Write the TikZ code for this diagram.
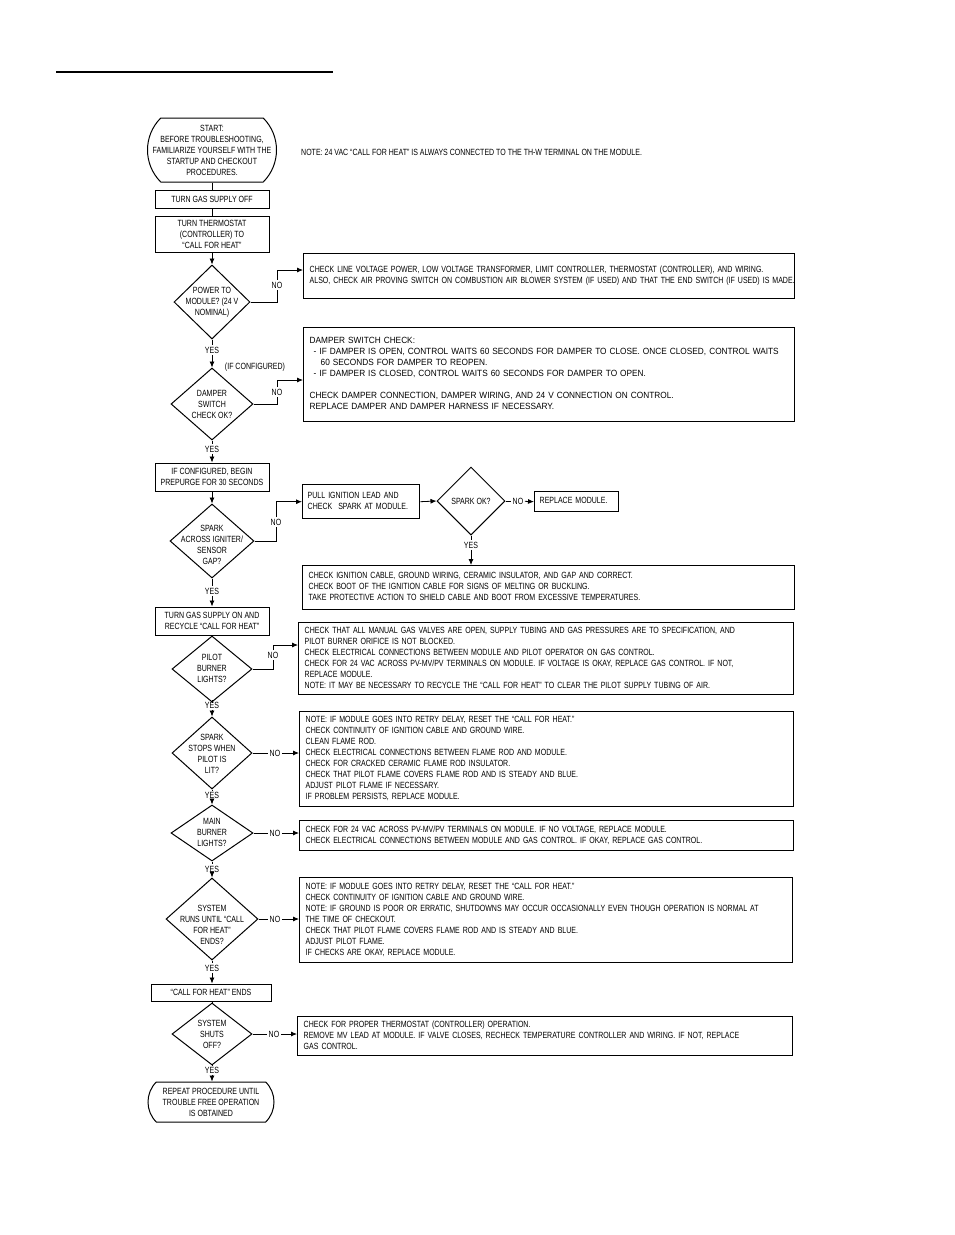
\documentclass[tikz,border=0pt]{standalone}
\usepackage{fontspec}
\setmainfont{Liberation Sans}[FakeStretch=0.78]
\newfontfamily\wideB{Liberation Sans}[FakeStretch=0.92]
\usetikzlibrary{arrows.meta,shapes.geometric,shapes.misc}
\newcommand{\fsz}{\fontsize{9}{11}\selectfont}
\newcommand{\tl}[1]{\begin{tabular}{@{}l@{}}#1\end{tabular}}
\tikzset{
  lbox/.style={draw, line width=1pt, font=\fsz, align=center, inner sep=2pt},
  rbox/.style={draw, line width=1.4pt, font=\fsz, align=left, inner xsep=5pt, inner ysep=2pt, anchor=north west},
  dia/.style={draw, diamond, line width=1pt, inner sep=0pt},
  dtext/.style={font=\fsz, align=center, inner sep=0pt},
  term/.style={draw, rounded rectangle, rounded rectangle arc length=90, line width=1pt, inner sep=0pt},
  lab/.style={font=\fsz, inner sep=1.5pt},
  arr/.style={line width=0.8pt, -{Latex[length=6pt,width=5pt]}},
  ln/.style={line width=0.8pt},
}
\begin{document}
\begin{tikzpicture}[x=1pt,y=-1pt]
\useasboundingbox[fill=white] (0,0) rectangle (954,1235);
\draw[line width=2.5pt] (56,72) -- (333,72);

% start
\node[term, minimum width=129pt, minimum height=64pt] (start) at (212,150) {};
\node[dtext] (starttxt) at (start) {START:\\BEFORE TROUBLESHOOTING,\\FAMILIARIZE YOURSELF WITH THE\\STARTUP AND CHECKOUT\\PROCEDURES.};
\node[dtext, anchor=west] (note) at (301,152) {NOTE: 24 VAC “CALL FOR HEAT” IS ALWAYS CONNECTED TO THE TH-W TERMINAL ON THE MODULE.};

\node[lbox, minimum width=114pt, minimum height=18pt] (gasoff) at (212,199) {TURN GAS SUPPLY OFF};
\node[lbox, minimum width=114pt, minimum height=36pt] (thermo) at (212,234) {TURN THERMOSTAT\\(CONTROLLER) TO\\“CALL FOR HEAT”};

% diamond 1
\node[dia, minimum width=76pt, minimum height=74pt] (D1) at (212,302) {};
\node[dtext] (D1t) at (212,302) {POWER TO\\MODULE? (24 V\\NOMINAL)};
\node[lab] (n1) at (277,285) {NO};
\node[rbox, minimum width=491pt, minimum height=45pt, text width=479pt] (B1) at (303,253) {\tl{CHECK LINE VOLTAGE POWER, LOW VOLTAGE TRANSFORMER, LIMIT CONTROLLER, THERMOSTAT (CONTROLLER), AND WIRING.\\ALSO, CHECK AIR PROVING SWITCH ON COMBUSTION AIR BLOWER SYSTEM (IF USED) AND THAT THE END SWITCH (IF USED) IS MADE.}};

% diamond 2
\node[lab] (y1) at (212,350) {YES};
\node[dia, minimum width=82pt, minimum height=72pt] (D2) at (212,404) {};
\node[dtext] (D2t) at (212,404) {DAMPER\\SWITCH\\CHECK OK?};
\node[dtext] (ifconf) at (255,367) {(IF CONFIGURED)};
\node[lab] (n2) at (277,392) {NO};
\node[rbox, font={\wideB\fsz}, minimum width=491pt, minimum height=94pt, text width=479pt] (B2) at (303,327) {\tl{DAMPER SWITCH CHECK:\\
\hspace{4pt}- IF DAMPER IS OPEN, CONTROL WAITS 60 SECONDS FOR DAMPER TO CLOSE. ONCE CLOSED, CONTROL WAITS\\
\hspace{11pt}60 SECONDS FOR DAMPER TO REOPEN.\\
\hspace{4pt}- IF DAMPER IS CLOSED, CONTROL WAITS 60 SECONDS FOR DAMPER TO OPEN.\\
\\
CHECK DAMPER CONNECTION, DAMPER WIRING, AND 24 V CONNECTION ON CONTROL.\\
REPLACE DAMPER AND DAMPER HARNESS IF NECESSARY.}};

% prepurge
\node[lab] (y2) at (212,449) {YES};
\node[lbox, minimum width=114pt, minimum height=28pt] (prep) at (212,477) {IF CONFIGURED, BEGIN\\PREPURGE FOR 30 SECONDS};

% diamond 3
\node[dia, minimum width=84pt, minimum height=74pt] (D3) at (212,541) {};
\node[dtext] (D3t) at (212,545) {SPARK\\ACROSS IGNITER/\\SENSOR\\GAP?};
\node[lab] (n3) at (276,522) {NO};
\node[rbox, minimum width=117pt, minimum height=34pt, text width=107pt] (pull) at (302,484) {\tl{PULL IGNITION LEAD AND\\CHECK\ \ SPARK AT MODULE.}};
\node[dia, minimum width=68pt, minimum height=68pt] (D4) at (471,501) {};
\node[dtext] (D4t) at (471,501) {SPARK OK?};
\node[lab] (n4) at (518,501) {NO};
\node[rbox, minimum width=84pt, minimum height=20pt, text width=74pt] (repl) at (534,491) {\tl{REPLACE MODULE.}};
\node[lab] (y4) at (471,545) {YES};
\node[rbox, minimum width=492pt, minimum height=44pt, text width=480pt] (B3) at (302,565) {\tl{CHECK IGNITION CABLE, GROUND WIRING, CERAMIC INSULATOR, AND GAP AND CORRECT.\\
CHECK BOOT OF THE IGNITION CABLE FOR SIGNS OF MELTING OR BUCKLING.\\
TAKE PROTECTIVE ACTION TO SHIELD CABLE AND BOOT FROM EXCESSIVE TEMPERATURES.}};

% gas on
\node[lab] (y3) at (212,591) {YES};
\node[lbox, minimum width=114pt, minimum height=28pt] (gason) at (212,621) {TURN GAS SUPPLY ON AND\\RECYCLE “CALL FOR HEAT”};

% diamond 5
\node[dia, minimum width=80pt, minimum height=66pt] (D5) at (212,669) {};
\node[dtext] (D5t) at (212,668) {PILOT\\BURNER\\LIGHTS?};
\node[lab] (n5) at (273,655) {NO};
\node[rbox, minimum width=495pt, minimum height=72pt, text width=483pt] (B4) at (298,622) {\tl{CHECK THAT ALL MANUAL GAS VALVES ARE OPEN, SUPPLY TUBING AND GAS PRESSURES ARE TO SPECIFICATION, AND\\
PILOT BURNER ORIFICE IS NOT BLOCKED.\\
CHECK ELECTRICAL CONNECTIONS BETWEEN MODULE AND PILOT OPERATOR ON GAS CONTROL.\\
CHECK FOR 24 VAC ACROSS PV-MV/PV TERMINALS ON MODULE. IF VOLTAGE IS OKAY, REPLACE GAS CONTROL. IF NOT,\\
REPLACE MODULE.\\
NOTE: IT MAY BE NECESSARY TO RECYCLE THE “CALL FOR HEAT” TO CLEAR THE PILOT SUPPLY TUBING OF AIR.}};

% diamond 6
\node[lab] (y5) at (212,705) {YES};
\node[dia, minimum width=80pt, minimum height=72pt] (D6) at (212,753) {};
\node[dtext] (D6t) at (212,754) {SPARK\\STOPS WHEN\\PILOT IS\\LIT?};
\node[lab] (n6) at (275,753) {NO};
\node[rbox, minimum width=494pt, minimum height=95pt, text width=482pt] (B5) at (299,711) {\tl{NOTE: IF MODULE GOES INTO RETRY DELAY, RESET THE “CALL FOR HEAT.”\\
CHECK CONTINUITY OF IGNITION CABLE AND GROUND WIRE.\\
CLEAN FLAME ROD.\\
CHECK ELECTRICAL CONNECTIONS BETWEEN FLAME ROD AND MODULE.\\
CHECK FOR CRACKED CERAMIC FLAME ROD INSULATOR.\\
CHECK THAT PILOT FLAME COVERS FLAME ROD AND IS STEADY AND BLUE.\\
ADJUST PILOT FLAME IF NECESSARY.\\
IF PROBLEM PERSISTS, REPLACE MODULE.}};

% diamond 7
\node[lab] (y6) at (212,795) {YES};
\node[dia, minimum width=82pt, minimum height=56pt] (D7) at (212,833) {};
\node[dtext] (D7t) at (212,832) {MAIN\\BURNER\\LIGHTS?};
\node[lab] (n7) at (275,833) {NO};
\node[rbox, minimum width=494pt, minimum height=30pt, text width=482pt] (B6) at (299,820) {\tl{CHECK FOR 24 VAC ACROSS PV-MV/PV TERMINALS ON MODULE. IF NO VOLTAGE, REPLACE MODULE.\\
CHECK ELECTRICAL CONNECTIONS BETWEEN MODULE AND GAS CONTROL. IF OKAY, REPLACE GAS CONTROL.}};

% diamond 8
\node[lab] (y7) at (212,869) {YES};
\node[dia, minimum width=92pt, minimum height=82pt] (D8) at (212,919) {};
\node[dtext] (D8t) at (212,925) {SYSTEM\\RUNS UNTIL “CALL\\FOR HEAT”\\ENDS?};
\node[lab] (n8) at (275,919) {NO};
\node[rbox, minimum width=493pt, minimum height=85pt, text width=481pt] (B7) at (299,877) {\tl{NOTE: IF MODULE GOES INTO RETRY DELAY, RESET THE “CALL FOR HEAT.”\\
CHECK CONTINUITY OF IGNITION CABLE AND GROUND WIRE.\\
NOTE: IF GROUND IS POOR OR ERRATIC, SHUTDOWNS MAY OCCUR OCCASIONALLY EVEN THOUGH OPERATION IS NORMAL AT\\
THE TIME OF CHECKOUT.\\
CHECK THAT PILOT FLAME COVERS FLAME ROD AND IS STEADY AND BLUE.\\
ADJUST PILOT FLAME.\\
IF CHECKS ARE OKAY, REPLACE MODULE.}};

% call ends
\node[lab] (y8) at (212,968) {YES};
\node[lbox, minimum width=120pt, minimum height=17pt] (cends) at (211,992.5) {“CALL FOR HEAT” ENDS};

% diamond 9
\node[dia, minimum width=80pt, minimum height=62pt] (D9) at (212,1034) {};
\node[dtext] (D9t) at (212,1034) {SYSTEM\\SHUTS\\OFF?};
\node[lab] (n9) at (274,1034) {NO};
\node[rbox, minimum width=495pt, minimum height=39pt, text width=483pt] (B8) at (297,1016) {\tl{CHECK FOR PROPER THERMOSTAT (CONTROLLER) OPERATION.\\
REMOVE MV LEAD AT MODULE. IF VALVE CLOSES, RECHECK TEMPERATURE CONTROLLER AND WIRING. IF NOT, REPLACE\\
GAS CONTROL.}};

% end
\node[lab] (y9) at (212,1070) {YES};
\node[term, minimum width=126pt, minimum height=40pt] (finish) at (211,1102) {};
\node[dtext] (fintxt) at (finish) {REPEAT PROCEDURE UNTIL\\TROUBLE FREE OPERATION\\IS OBTAINED};

% connectors
\draw[ln] (start) -- (gasoff);
\draw[ln] (gasoff) -- (thermo);
\draw[arr] (thermo) -- (D1);
\draw[ln] (D1.east) -| (n1);
\draw[arr] (n1) |- (B1.west |- 0,270);
\draw[ln] (D1) -- (y1);
\draw[arr] (y1) -- (D2);
\draw[ln] (D2.east) -| (n2);
\draw[arr] (n2) |- (B2.west |- 0,380);
\draw[ln] (D2) -- (y2);
\draw[arr] (y2) -- (prep);
\draw[arr] (prep) -- (D3);
\draw[ln] (D3.east) -| (n3);
\draw[arr] (n3) |- (pull.west);
\draw[arr] (pull.east) -- (D4.west);
\draw[ln] (D4.east) -- (n4);
\draw[arr] (n4) -- (repl.west);
\draw[ln] (D4) -- (y4);
\draw[arr] (y4) -- (y4 |- B3.north);
\draw[ln] (D3) -- (y3);
\draw[arr] (y3) -- (gason);
\draw[ln] (gason) -- (D5);
\draw[ln] (D5.east) -| (n5);
\draw[arr] (n5) |- (B4.west |- 0,645);
\draw[ln] (D5) -- (y5);
\draw[arr] (y5) -- (D6);
\draw[ln] (D6.east) -- (n6);
\draw[arr] (n6) -- (B5.west |- n6);
\draw[ln] (D6) -- (y6);
\draw[arr] (y6) -- (D7);
\draw[ln] (D7.east) -- (n7);
\draw[arr] (n7) -- (B6.west |- n7);
\draw[ln] (D7) -- (y7);
\draw[arr] (y7) -- (D8);
\draw[ln] (D8.east) -- (n8);
\draw[arr] (n8) -- (B7.west |- n8);
\draw[ln] (D8) -- (y8);
\draw[arr] (y8) -- (y8 |- cends.north);
\draw[ln] (cends.south -| D9) -- (D9);
\draw[ln] (D9.east) -- (n9);
\draw[arr] (n9) -- (B8.west |- n9);
\draw[ln] (D9) -- (y9);
\draw[arr] (y9) -- (y9 |- finish.north);
\end{tikzpicture}
\end{document}
